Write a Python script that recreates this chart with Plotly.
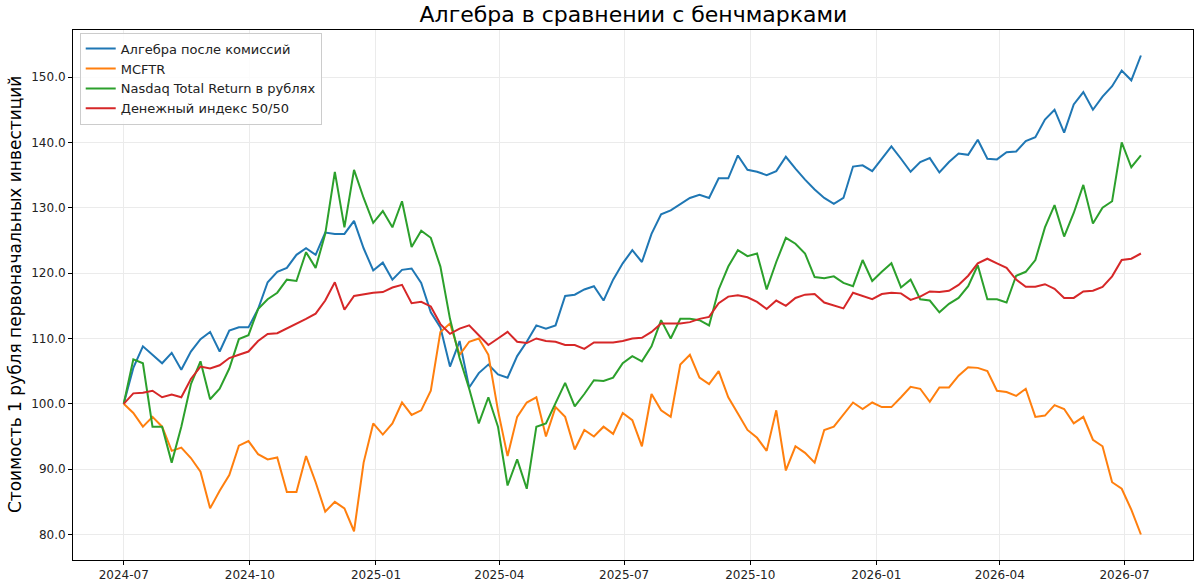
import pandas as pd
import plotly.graph_objects as go

# weekly observations starting 2024-07-01
start_date = "2024-07-01"
n_weeks = 107
dates = pd.date_range(start_date, periods=n_weeks, freq="7D")

algebra = [100.0, 105.5, 108.8, 107.5, 106.2, 107.8, 105.2, 108.0, 109.9, 111.0,
           108.0, 111.2, 111.7, 111.7, 114.5, 118.6, 120.2, 120.8, 122.8, 123.8,
           122.8, 126.2, 126.0, 126.0, 128.0, 123.8, 120.4, 121.6, 119.0, 120.5,
           120.7, 118.5, 114.0, 111.7, 105.7, 109.6, 102.5, 104.7, 106.0, 104.5,
           104.0, 107.3, 109.5, 112.0, 111.5, 112.0, 116.5, 116.7, 117.5, 118.0,
           115.8, 119.0, 121.5, 123.5, 121.7, 126.0, 129.0, 129.6, 130.5, 131.5,
           132.0, 131.5, 134.5, 134.5, 138.0, 135.8, 135.5, 135.0, 135.6, 137.8,
           136.0, 134.3, 132.8, 131.5, 130.6, 131.5, 136.3, 136.5, 135.6, 137.5,
           139.4, 137.5, 135.5, 137.0, 137.6, 135.4, 137.0, 138.3, 138.1, 140.4,
           137.5, 137.4, 138.5, 138.6, 140.2, 140.8, 143.5, 145.0, 141.5, 145.8,
           147.7, 145.0, 147.0, 148.6, 151.0, 149.5, 153.3]

mcftr = [100.0, 98.6, 96.5, 98.0, 96.5, 92.8, 93.3, 91.7, 89.6, 84.0,
         86.7, 89.1, 93.6, 94.3, 92.3, 91.5, 91.8, 86.5, 86.5, 92.0,
         88.0, 83.5, 85.0, 84.0, 80.5, 91.0, 97.0, 95.3, 97.0, 100.2,
         98.3, 99.0, 102.0, 111.0, 112.3, 107.5, 109.5, 110.0, 107.5, 99.0,
         92.0, 98.0, 100.2, 101.0, 95.0, 99.5, 98.0, 93.0, 96.0, 95.0,
         96.5, 95.4, 98.6, 97.5, 93.5, 101.5, 99.0, 98.0, 106.0, 107.5,
         104.0, 103.0, 105.0, 101.0, 98.5, 96.0, 94.8, 92.8, 99.0, 89.8,
         93.5, 92.5, 91.0, 96.0, 96.5, 98.3, 100.2, 99.2, 100.2, 99.5,
         99.5, 101.0, 102.6, 102.3, 100.3, 102.5, 102.5, 104.3, 105.6, 105.5,
         105.0, 102.0, 101.8, 101.2, 102.3, 98.0, 98.2, 99.8, 99.2, 97.0,
         98.0, 94.5, 93.5, 88.0, 87.0, 83.8, 80.0]

nasdaq_rub = [100.0, 106.8, 106.2, 96.5, 96.5, 91.0, 96.5, 103.0, 106.5, 100.7,
              102.3, 105.4, 109.9, 110.5, 114.5, 116.0, 117.0, 119.0, 118.8, 123.2,
              120.8, 126.0, 135.5, 127.0, 135.8, 131.5, 127.7, 129.5, 127.0, 131.0,
              124.0, 126.5, 125.4, 121.0, 113.0, 107.0, 102.3, 97.0, 101.0, 96.5,
              87.5, 91.5, 87.0, 96.5, 97.0, 100.0, 103.2, 99.6, 101.5, 103.6,
              103.5, 104.0, 106.2, 107.3, 106.5, 108.8, 112.8, 110.0, 113.0, 113.0,
              112.8, 112.0, 117.5, 121.0, 123.5, 122.6, 123.0, 117.5, 121.7, 125.4,
              124.5, 123.0, 119.4, 119.2, 119.5, 118.5, 118.0, 122.0, 118.8, 120.2,
              121.5, 117.8, 119.0, 116.0, 115.8, 114.0, 115.3, 116.2, 118.0, 121.2,
              116.0, 116.0, 115.5, 119.6, 120.2, 122.0, 127.0, 130.4, 125.6, 129.2,
              133.5, 127.6, 130.0, 131.0, 140.0, 136.2, 138.0]

money_index = [100.0, 101.6, 101.7, 102.0, 101.0, 101.4, 101.0, 103.8, 105.7, 105.4,
               105.9, 107.0, 107.5, 108.0, 109.6, 110.7, 110.8, 111.5, 112.2, 113.0,
               113.8, 115.8, 118.6, 114.4, 116.5, 116.8, 117.0, 117.1, 117.8, 118.2,
               115.4, 115.6, 114.9, 112.2, 110.7, 111.5, 112.0, 110.5, 109.0, 110.0,
               111.0, 109.5, 109.3, 110.0, 109.6, 109.5, 109.0, 109.0, 108.4, 109.4,
               109.4, 109.4, 109.6, 110.0, 110.1, 111.0, 112.3, 112.3, 112.3, 112.5,
               113.0, 113.3, 115.4, 116.4, 116.6, 116.3, 115.6, 114.5, 115.8, 115.0,
               116.2, 116.7, 116.8, 115.5, 115.0, 114.6, 117.0, 116.5, 116.0, 116.8,
               117.0, 116.9, 115.9, 116.4, 117.2, 117.1, 117.3, 118.2, 119.6, 121.5,
               122.2, 121.5, 120.8, 119.0, 117.9, 117.9, 118.3, 117.6, 116.2, 116.2,
               117.2, 117.3, 117.9, 119.5, 122.0, 122.2, 123.0]

series_names = ["Алгебра после комиссий", "MCFTR",
                "Nasdaq Total Return в рублях", "Денежный индекс 50/50"]
series_values = [algebra, mcftr, nasdaq_rub, money_index]
colors = ["#1f77b4", "#ff7f0e", "#2ca02c", "#d62728"]

y_ticks = [80, 90, 100, 110, 120, 130, 140, 150]

fig = go.Figure()
for name, vals, col in zip(series_names, series_values, colors):
    fig.add_trace(go.Scatter(x=dates, y=vals, mode="lines", name=name,
                             line=dict(color=col, width=2)))

FONT = "DejaVu Sans"
W, H = 1200, 588
L, R, T, B = 73, 6, 30, 24

fig.update_layout(
    width=W, height=H,
    margin=dict(l=L, r=R, t=T, b=B),
    paper_bgcolor="white", plot_bgcolor="white",
    font=dict(family=FONT, size=12, color="#222222"),
    title=dict(text="Алгебра в сравнении с бенчмарками",
               font=dict(family=FONT, size=22, color="black"),
               x=(L + (W - R - L) / 2) / W, xanchor="center",
               y=1 - 14 / H, yanchor="middle"),
    showlegend=True,
    legend=dict(x=0.006, y=0.995, xanchor="left", yanchor="top",
                bgcolor="rgba(255,255,255,0.85)", bordercolor="#cccccc",
                borderwidth=1, font=dict(family=FONT, size=13, color="#222222"),
                itemwidth=30, tracegroupgap=0),
)

fig.update_xaxes(
    range=["2024-05-25", "2026-08-20"],
    tickformat="%Y-%m", dtick="M3", tick0="2024-07-01",
    showgrid=True, gridcolor="#ebebeb", gridwidth=1,
    showline=True, linecolor="black", linewidth=1, mirror=True,
    ticks="outside", ticklen=4, tickcolor="black",
    tickfont=dict(family=FONT, size=12, color="#222222"),
    zeroline=False,
)
fig.update_yaxes(
    range=[76.1, 157.2],
    tickvals=y_ticks, tickformat=".1f",
    showgrid=True, gridcolor="#ebebeb", gridwidth=1,
    showline=True, linecolor="black", linewidth=1, mirror=True,
    ticks="outside", ticklen=4, tickcolor="black",
    tickfont=dict(family=FONT, size=12, color="#222222"),
    zeroline=False,
)

fig.add_annotation(
    text="Стоимость 1 рубля первоначальных инвестиций",
    xref="paper", yref="paper",
    x=(15 - L) / (W - L - R), y=0.5,
    textangle=-90, showarrow=False,
    font=dict(family=FONT, size=17, color="black"),
    xanchor="center", yanchor="middle",
)

fig.write_html("out.html")
